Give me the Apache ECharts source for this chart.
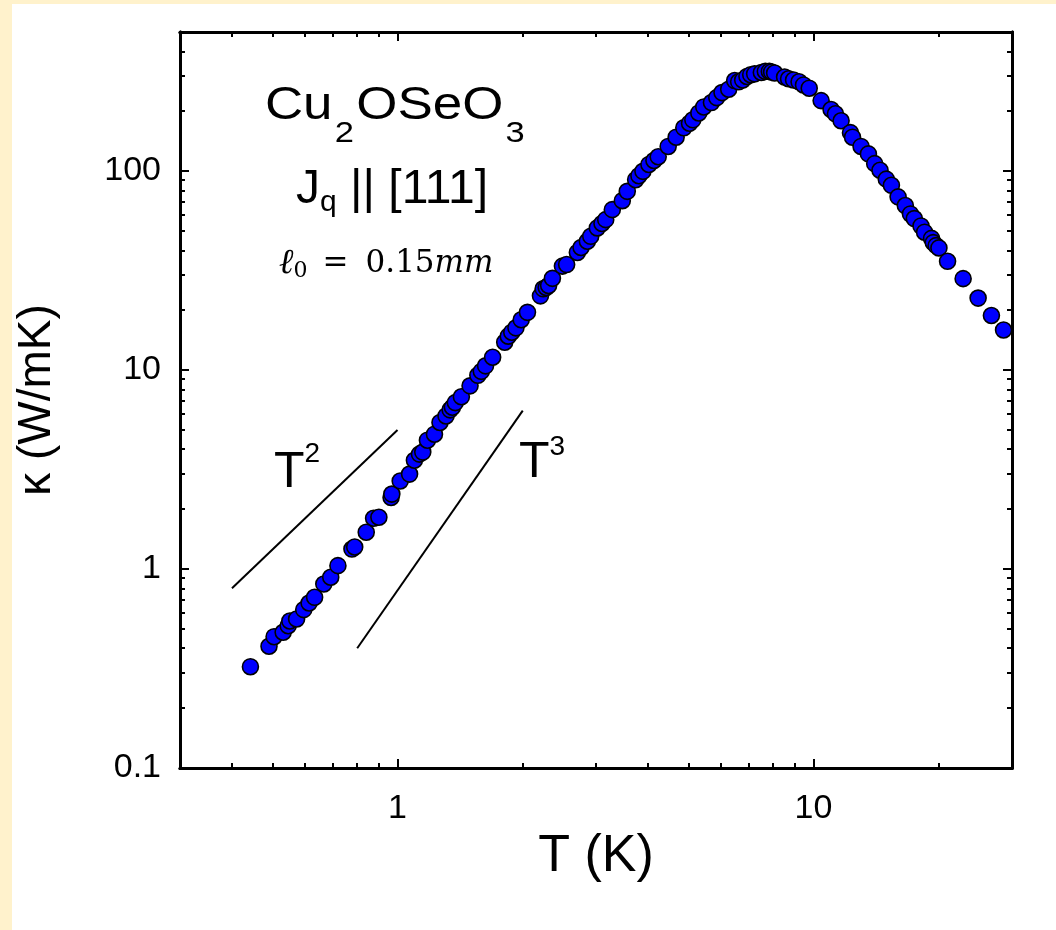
<!DOCTYPE html>
<html>
<head>
<meta charset="utf-8">
<script src="https://cdn.jsdelivr.net/npm/echarts@6/dist/echarts.min.js"></script>
<style>
  html, body { margin: 0; padding: 0; background: #ffffff; }
  #chart { width: 1056px; height: 930px; }
</style>
</head>
<body>
<div id="chart"></div>
<script>
// Thermal conductivity of Cu2OSeO3 (heat current along [111])
const temperature = [
  0.443, 0.491, 0.505, 0.531, 0.546, 0.551, 0.572, 0.595, 0.613, 0.632,
  0.665, 0.691, 0.719, 0.777, 0.789, 0.841, 0.876, 0.902, 0.965, 0.969,
  1.015, 1.069, 1.098, 1.129, 1.150, 1.180, 1.227, 1.265, 1.308, 1.338,
  1.355, 1.377, 1.424, 1.494, 1.560, 1.590, 1.628, 1.693, 1.810, 1.846,
  1.882, 1.926, 1.983, 2.053, 2.206, 2.239, 2.277, 2.308, 2.357, 2.491,
  2.550, 2.706, 2.762, 2.860, 2.914, 3.022, 3.101, 3.166, 3.283, 3.470,
  3.567, 3.736, 3.804, 3.890, 4.021, 4.134, 4.233, 4.473, 4.675, 4.877,
  5.034, 5.127, 5.300, 5.447, 5.684, 5.853, 6.026, 6.253, 6.464, 6.607,
  6.756, 6.918, 7.063, 7.219, 7.491, 7.659, 7.830, 7.930, 8.063, 8.520,
  8.710, 8.954, 9.231, 9.462, 9.765, 10.43, 11.02, 11.29, 11.65, 12.27,
  12.41, 13.01, 13.55, 14.03, 14.45, 14.96, 15.39, 15.97, 16.62, 17.10,
  17.47, 18.13, 18.49, 19.22, 19.40, 19.71, 20.02, 21.00, 22.89, 24.87,
  26.77, 28.63
];
const kappa = [
  0.323, 0.409, 0.457, 0.481, 0.519, 0.548, 0.561, 0.625, 0.675, 0.721,
  0.841, 0.909, 1.04, 1.26, 1.29, 1.53, 1.80, 1.82, 2.29, 2.38,
  2.77, 3.00, 3.52, 3.78, 3.87, 4.44, 4.76, 5.45, 5.88, 6.31,
  6.50, 6.86, 7.34, 8.33, 9.41, 9.85, 10.5, 11.6, 13.8, 14.8,
  15.5, 16.3, 17.9, 19.5, 23.6, 25.6, 26.0, 26.6, 28.9, 33.3,
  33.9, 39.0, 41.3, 44.4, 47.0, 51.8, 54.5, 57.0, 64.0, 71.0,
  79.1, 90.5, 94.8, 99.7, 108, 113, 118, 133, 148, 165,
  174, 181, 196, 210, 221, 234, 248, 258, 285, 281,
  287, 299, 305, 308, 313, 317, 317, 315, 311, 297,
  291, 287, 281, 271, 261, 226, 204, 194, 179, 156,
  148, 133, 122, 109, 101, 91.1, 84.8, 74.2, 67.1, 60.9,
  57.7, 53.0, 49.3, 45.9, 43.7, 42.2, 41.1, 35.2, 28.8, 23.0,
  18.8, 15.9
];

// Power-law guide lines
const guideT2Temp = [0.4, 1.0];
const guideT2Kappa = [0.8, 5.0];
const guideT3Temp = [0.8, 2.0];
const guideT3Kappa = [0.4, 6.25];

// Axis ranges and tick positions (physical units)
const tempRange = [0.3, 30];
const kappaRange = [0.1, 500];
const tempMajorTicks = [1, 10];
const tempMinorTicks = [0.4, 0.5, 0.6, 0.7, 0.8, 0.9, 2, 3, 4, 5, 6, 7, 8, 9, 20];
const kappaMajorTicks = [0.1, 1, 10, 100];
const kappaMinorTicks = [0.2, 0.3, 0.4, 0.5, 0.6, 0.7, 0.8, 0.9,
  2, 3, 4, 5, 6, 7, 8, 9, 20, 30, 40, 50, 60, 70, 80, 90, 200, 300, 400];

const lg = Math.log10;
const FONT = '"Liberation Sans", Arial, Helvetica, sans-serif';
const SERIF = '"DejaVu Serif", "Liberation Serif", serif';

function decadeLabel(v) {
  return String(parseFloat(Math.pow(10, v).toPrecision(3)));
}

// Axes work in log10 space; labels show the physical value.
function makeAxis(pos, range, ticks, tickLen, extra) {
  return Object.assign({
    type: 'value',
    position: pos,
    min: lg(range[0]),
    max: lg(range[1]),
    axisLine: { show: true, onZero: false, lineStyle: { color: '#000', width: 3 } },
    axisTick: {
      show: true, inside: true, length: tickLen,
      customValues: ticks.map(lg),
      lineStyle: { color: '#000', width: 2 }
    },
    axisLabel: { show: false },
    splitLine: { show: false },
    minorTick: { show: false },
    minorSplitLine: { show: false }
  }, extra || {});
}

function tickLabels(ticks, margin) {
  return {
    show: true, customValues: ticks.map(lg), formatter: decadeLabel,
    color: '#000', fontSize: 34, fontFamily: FONT, margin: margin
  };
}

const xAxes = [
  makeAxis('bottom', tempRange, tempMajorTicks, 9, {
    name: 'T (K)', nameLocation: 'middle', nameGap: 60,
    nameTextStyle: { fontSize: 52, fontFamily: FONT, color: '#000' },
    axisLabel: tickLabels(tempMajorTicks, 24)
  }),
  makeAxis('bottom', tempRange, tempMinorTicks, 5),
  makeAxis('top', tempRange, tempMajorTicks, 9),
  makeAxis('top', tempRange, tempMinorTicks, 5)
];

const yAxes = [
  makeAxis('left', kappaRange, kappaMajorTicks, 9, {
    name: 'κ (W/mK)', nameLocation: 'middle', nameGap: 120, nameRotate: 90,
    nameTextStyle: { fontSize: 46, fontFamily: FONT, color: '#000' },
    axisLabel: tickLabels(kappaMajorTicks, 19)
  }),
  makeAxis('left', kappaRange, kappaMinorTicks, 5),
  makeAxis('right', kappaRange, kappaMajorTicks, 9),
  makeAxis('right', kappaRange, kappaMinorTicks, 5)
];

function toPairs(xs, ys) {
  return xs.map((x, i) => [lg(x), lg(ys[i])]);
}

function guideSeries(xs, ys) {
  return {
    type: 'line',
    xAxisIndex: 0, yAxisIndex: 0,
    data: toPairs(xs, ys),
    showSymbol: false,
    symbol: 'none',
    lineStyle: { color: '#000', width: 2 },
    silent: true,
    z: 1
  };
}

// Rich-text token style; `box` sets the token's box height, which places
// sub- and superscripts relative to the top of the line.
function tok(size, box, family, extra) {
  return Object.assign({
    fontSize: size, height: box, lineHeight: box,
    verticalAlign: 'top', fontFamily: family || FONT, fill: '#000'
  }, extra || {});
}

const chart = echarts.init(document.getElementById('chart'), null, { renderer: 'canvas' });

chart.setOption({
  animation: false,
  backgroundColor: '#ffffff',
  grid: { left: 180, right: 44, top: 32, bottom: 162, containLabel: false },
  xAxis: xAxes,
  yAxis: yAxes,
  series: [
    guideSeries(guideT2Temp, guideT2Kappa),
    guideSeries(guideT3Temp, guideT3Kappa),
    {
      type: 'scatter',
      xAxisIndex: 0, yAxisIndex: 0,
      data: toPairs(temperature, kappa),
      symbol: 'circle',
      symbolSize: 16,
      itemStyle: { color: '#0000ff', borderColor: '#000', borderWidth: 1.6, opacity: 1 },
      z: 3
    }
  ],
  graphic: [
    // page margin strips
    { type: 'rect', shape: { x: 0, y: 0, width: 12, height: 930 }, style: { fill: '#fff2cc' }, z: 100 },
    { type: 'rect', shape: { x: 0, y: 0, width: 1056, height: 4 }, style: { fill: '#fff2cc' }, z: 100 },
    // compound name
    {
      type: 'text', x: 396, y: 83.2, scaleX: 1.15, z: 100,
      style: {
        text: '{m|Cu}{s|2}{m|OSeO}{s|3}',
        align: 'center', verticalAlign: 'top',
        rich: {
          m: tok(46, 46),
          s: tok(30, 101.6, FONT, { padding: [0, 2, 0, 2] })
        }
      }
    },
    // heat current direction
    {
      type: 'text', x: 392, y: 165.6, z: 100,
      style: {
        text: '{m|J}{s|q}{m| || [111]}',
        align: 'center', verticalAlign: 'top',
        rich: { m: tok(48, 48), s: tok(30, 73.8) }
      }
    },
    // boundary mean free path
    {
      type: 'text', x: 279, y: 248.5, z: 100,
      style: {
        text: '{l|ℓ}{s|0}{e|=}{m|0.15}{i|mm}',
        align: 'left', verticalAlign: 'top',
        rich: {
          l: tok(31, 31, SERIF, { fontSize: 35, fontStyle: 'italic' }),
          m: tok(31, 31, SERIF),
          i: tok(31, 31, SERIF, { fontStyle: 'italic' }),
          e: tok(31, 31, SERIF, { padding: [0, 17, 0, 15] }),
          s: tok(22, 46, SERIF)
        }
      }
    },
    // power-law labels
    {
      type: 'text', x: 274, y: 433, z: 100,
      style: {
        text: '{m|T}{p|2}',
        align: 'left', verticalAlign: 'top',
        rich: { m: tok(50, 80), p: tok(28, 42) }
      }
    },
    {
      type: 'text', x: 519, y: 423, z: 100,
      style: {
        text: '{m|T}{p|3}',
        align: 'left', verticalAlign: 'top',
        rich: { m: tok(50, 80), p: tok(28, 48) }
      }
    }
  ]
});
</script>
</body>
</html>
